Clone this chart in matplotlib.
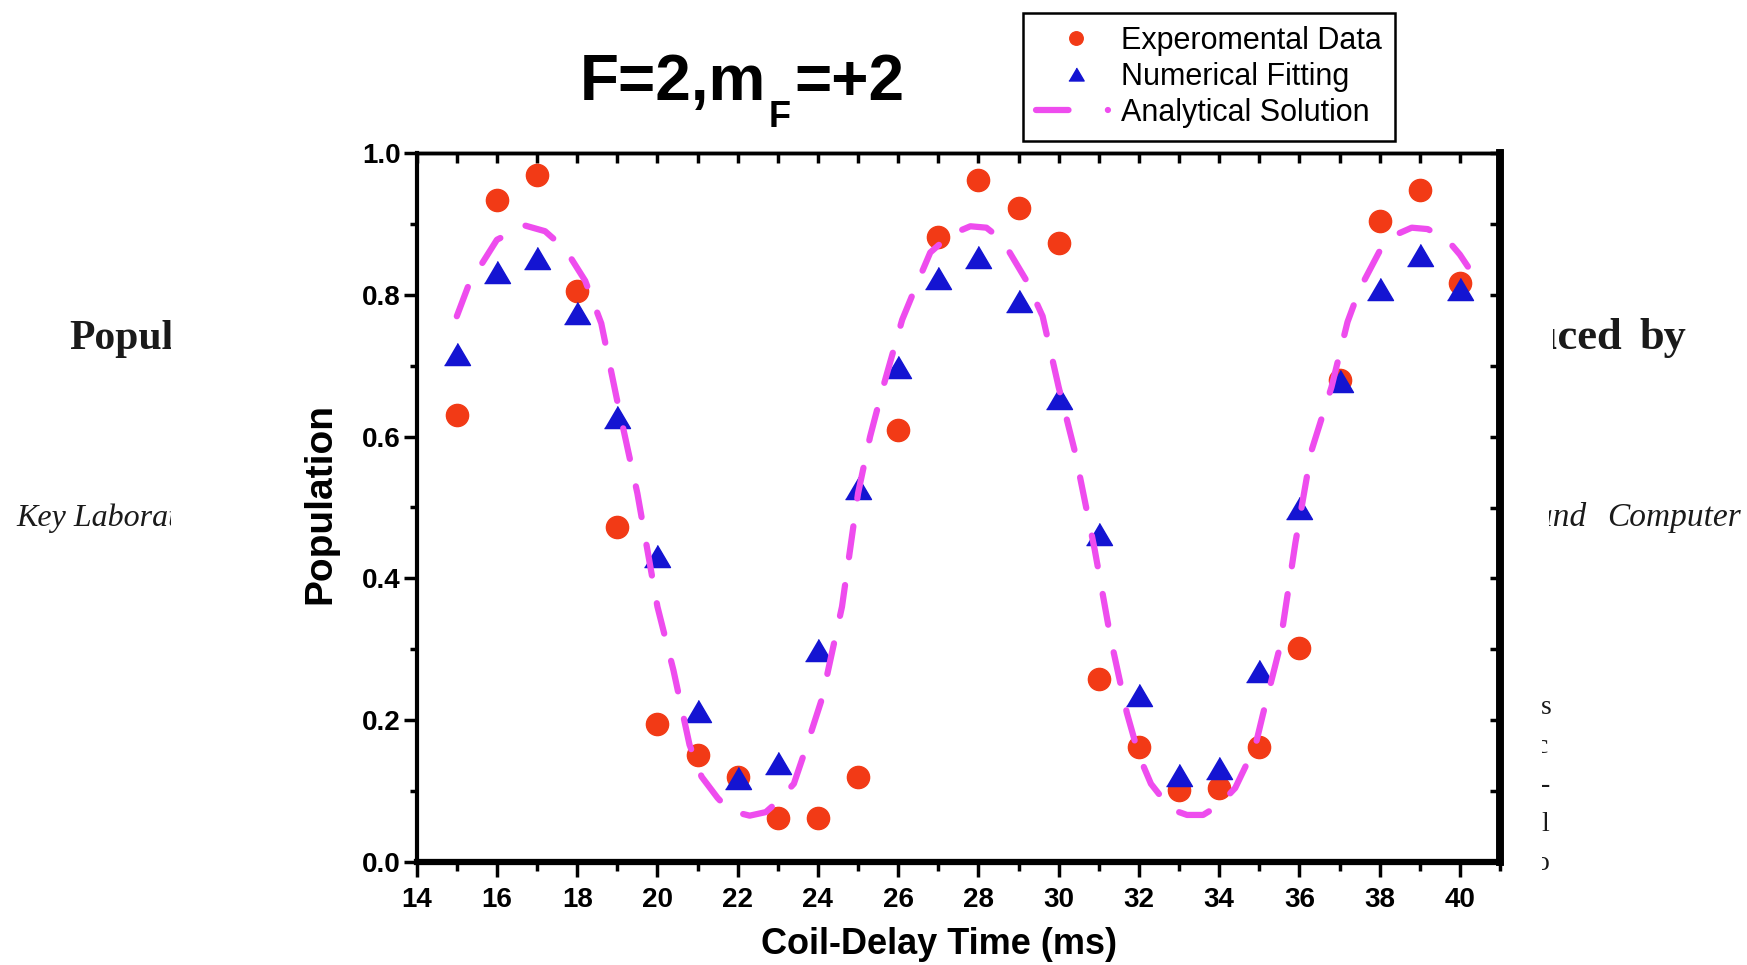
import matplotlib
matplotlib.use("Agg")
import matplotlib.pyplot as plt
from matplotlib.lines import Line2D
from matplotlib.ticker import MultipleLocator, FormatStrFormatter
from matplotlib.transforms import Bbox, TransformedBbox

# ---------------- data ----------------
time_ms = list(range(15, 41))
experimental = [0.631, 0.934, 0.970, 0.806, 0.472, 0.195, 0.150, 0.120, 0.061, 0.061,
                0.120, 0.609, 0.882, 0.962, 0.923, 0.874, 0.258, 0.162, 0.101, 0.104,
                0.162, 0.302, 0.680, 0.904, 0.948, 0.817]
numerical = [0.717, 0.833, 0.852, 0.775, 0.628, 0.431, 0.213, 0.118, 0.140, 0.299,
             0.528, 0.699, 0.824, 0.854, 0.792, 0.654, 0.463, 0.236, 0.123, 0.132,
             0.269, 0.499, 0.679, 0.808, 0.857, 0.808]
analytic_t = [15.0, 15.3, 16.0, 16.7, 17.2, 17.7, 18.2, 18.6, 19.0, 19.5, 20.0, 20.4,
              20.8, 21.1, 21.5, 21.8, 22.3, 22.7, 23.0, 23.4, 23.7, 24.1, 24.6, 25.0,
              25.3, 25.6, 26.1, 26.5, 26.8, 27.3, 27.8, 28.2, 28.6, 29.2, 29.6, 30.0,
              30.4, 30.9, 31.3, 31.7, 32.0, 32.3, 32.8, 33.2, 33.6, 34.0, 34.4, 34.9,
              35.1, 35.5, 35.9, 36.3, 36.8, 37.2, 37.5, 38.0, 38.4, 38.8, 39.2, 39.7,
              40.0, 40.2]
analytic_pop = [0.77, 0.815, 0.878, 0.898, 0.89, 0.865, 0.82, 0.76, 0.65, 0.52, 0.36, 0.27,
                0.165, 0.12, 0.09, 0.072, 0.065, 0.07, 0.085, 0.11, 0.16, 0.23, 0.36, 0.52,
                0.60, 0.665, 0.765, 0.82, 0.86, 0.885, 0.897, 0.895, 0.877, 0.82, 0.77, 0.67,
                0.58, 0.44, 0.314, 0.21, 0.15, 0.11, 0.074, 0.066, 0.066, 0.08, 0.104, 0.163,
                0.21, 0.30, 0.45, 0.58, 0.67, 0.762, 0.808, 0.862, 0.885, 0.895, 0.893, 0.877,
                0.857, 0.84]
legend_labels = ["Experomental Data", "Numerical Fitting", "Analytical Solution"]

# ---------------- style ----------------
RED = "#f23a16"
BLUE = "#1414d2"
MAG = "#ee4cee"
W, H = 1747, 965

plt.rcParams["font.family"] = ["Liberation Sans", "DejaVu Sans"]
plt.rcParams["font.weight"] = "bold"

fig = plt.figure(figsize=(W / 100, H / 100), dpi=100)
fig.patch.set_facecolor("white")

def fx(px):
    return px / W

def fy(py):
    return 1 - py / H

# background paper text fragments (clipped by the pasted chart)
def clip_box(x0, x1):
    return TransformedBbox(Bbox([[fx(x0), 0], [fx(x1), 1]]), fig.transFigure)

def bg_text(x, y, s, x0, x1, **kw):
    t = fig.text(fx(x), fy(y), s, family="Liberation Serif", color="#1a1a1a",
                 va="baseline", **kw)
    t.set_clip_box(clip_box(x0, x1))
    t.set_clip_on(True)
    return t

bg_text(69, 349, "Population", 0, 171, weight="bold", size=30, ha="left")
bg_text(1622, 349, "Induced", 1553, W, weight="bold", size=32, ha="right")
bg_text(1686, 349, "by", 1553, W, weight="bold", size=32, ha="right")
bg_text(16, 526, "Key Laboratory", 0, 171, style="italic", weight="normal", size=23, ha="left")
bg_text(1586, 526, "and", 1549, W, style="italic", weight="normal", size=24, ha="right")
bg_text(1741, 526, "Computer", 1549, W, style="italic", weight="normal", size=24, ha="right")
for ch, yb, x0 in [("s", 714, 1541), ("c", 753, 1536), ("-", 792, 1541),
                   ("l", 831, 1541), ("o", 870, 1536)]:
    bg_text(x0, yb, ch, 1542, W, weight="normal", size=20, ha="left")

# ---------------- axes ----------------
ax = fig.add_axes([fx(416.7), fy(861.7), fx(1500 - 416.7), (861.7 - 153.3) / H])
ax.set_facecolor("white")

tri = [(-1, -0.85), (1, -0.85), (0, 0.85)]
ax.plot(time_ms, experimental, ls="none", marker="o", ms=16, color=RED, zorder=3)
ax.plot(time_ms, numerical, ls="none", marker=tri, ms=18.7, color=BLUE, zorder=4)
ax.plot(analytic_t, analytic_pop, color=MAG, lw=4.5, dashes=(5, 4.5),
        dash_capstyle="round", zorder=5)

ax.set_xlim(14, 41)
ax.set_ylim(0, 1)

ax.xaxis.set_major_locator(MultipleLocator(2))
ax.xaxis.set_minor_locator(MultipleLocator(1))
ax.yaxis.set_major_locator(MultipleLocator(0.2))
ax.yaxis.set_minor_locator(MultipleLocator(0.1))
ax.yaxis.set_major_formatter(FormatStrFormatter("%.1f"))

ax.tick_params(axis="x", which="major", direction="out", length=11, width=2.5,
               labelsize=20, pad=7)
ax.tick_params(axis="x", which="minor", direction="out", length=6.5, width=2.5)
ax.tick_params(axis="y", which="major", direction="out", length=9.6, width=2.5,
               labelsize=20, pad=2)
ax.tick_params(axis="y", which="minor", direction="out", length=5, width=2.5)

ax.spines["left"].set_linewidth(3)
ax.spines["bottom"].set_linewidth(4.5)
ax.spines["top"].set_linewidth(2.5)
ax.spines["right"].set_linewidth(5.5)

sx = ax.secondary_xaxis("top")
sx.xaxis.set_major_locator(MultipleLocator(1))
sx.tick_params(direction="in", length=7, width=2.5, labeltop=False)
sx.spines["top"].set_linewidth(2.5)

sy = ax.secondary_yaxis("right")
sy.yaxis.set_major_locator(MultipleLocator(0.1))
sy.tick_params(direction="in", length=7, width=2.5, labelright=False)
sy.spines["right"].set_linewidth(5.5)

fig.text(fx(320), fy(504), "Population", rotation=90, ha="center", va="center",
         size=28, weight="bold")
fig.text(fx(939), fy(945), "Coil-Delay Time (ms)", ha="center", va="center",
         size=26, weight="bold")

# ---------------- title ----------------
t1 = fig.text(fx(580), fy(100), "F=2,m", size=46, weight="bold", ha="left", va="baseline")
t2 = ax.annotate("F", xy=(1.0, fy(127)), xycoords=(t1, "figure fraction"),
                 xytext=(1.5, 0), textcoords="offset points", size=26, weight="bold",
                 ha="left", va="baseline", annotation_clip=False)
t3 = ax.annotate("=+2", xy=(1.0, fy(100)), xycoords=(t2, "figure fraction"),
                 xytext=(3, 0), textcoords="offset points", size=46, weight="bold",
                 ha="left", va="baseline", annotation_clip=False)

# ---------------- legend ----------------
h1 = Line2D([], [], ls="none", marker="o", ms=9.7, color=RED)
h2 = Line2D([], [], ls="none", marker=tri, ms=11, color=BLUE)
h3 = Line2D([], [], color=MAG, lw=4.5, dashes=(5.2, 6.3, 0.01, 10), dash_capstyle="round")
leg = fig.legend([h1, h2, h3], legend_labels, loc="upper left",
                 bbox_to_anchor=(fx(1023), fy(13)), bbox_transform=fig.transFigure,
                 frameon=True, fancybox=False, edgecolor="black", framealpha=1,
                 borderpad=0.42, handlelength=2.65, handletextpad=0.15,
                 labelspacing=0.2, borderaxespad=0, numpoints=1,
                 prop=dict(family="Liberation Sans", size=22, weight="normal"))
leg.get_frame().set_linewidth(1.8)

fig.savefig("out.png", dpi=100, facecolor="white")
